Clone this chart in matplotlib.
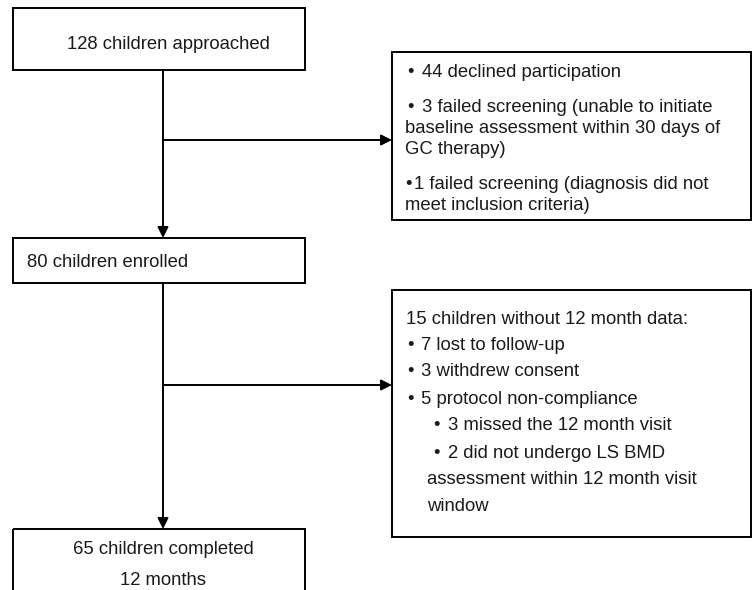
import matplotlib.pyplot as plt
from matplotlib.patches import Rectangle

plt.rcParams["font.family"] = ["Liberation Sans", "DejaVu Sans"]

# flow chart texts
main_steps = ["128 children approached", "80 children enrolled", "65 children completed", "12 months"]
excluded_1 = [
    ("\u2022", "44 declined participation"),
    ("\u2022", "3 failed screening (unable to initiate"),
    ("", "baseline assessment within 30 days of"),
    ("", "GC therapy)"),
    ("\u2022", "1 failed screening (diagnosis did not"),
    ("", "meet inclusion criteria)"),
]
excluded_2 = [
    ("", "15 children without 12 month data:"),
    ("\u2022", "7 lost to follow-up"),
    ("\u2022", "3 withdrew consent"),
    ("\u2022", "5 protocol non-compliance"),
    ("\u2022 ", "3 missed the 12 month visit"),
    ("\u2022 ", "2 did not undergo LS BMD"),
    (" ", "assessment within 12 month visit"),
    (" ", "window"),
]

fig = plt.figure(figsize=(7.52, 5.9), dpi=100)
ax = fig.add_axes([0, 0, 1, 1])
ax.set_xlim(0, 752)
ax.set_ylim(590, 0)
ax.axis("off")

fs = 13.3
lw = 1.4
dy = 2.5  # small shift so the glyphs sit where the reference has them


def box(x0, y0, x1, y1):
    ax.add_patch(Rectangle((x0, y0), x1 - x0, y1 - y0, fill=False, edgecolor="black", linewidth=lw))


def arrow(x0, y0, x1, y1):
    ax.annotate("", xy=(x1, y1), xytext=(x0, y0),
                arrowprops=dict(arrowstyle="-|>", color="black", lw=lw, mutation_scale=16, shrinkA=0, shrinkB=0))


def label(x, y, t, ha="left"):
    ax.text(x, y + dy, t, fontsize=fs, ha=ha, va="center", color="#1a1a1a")


# main boxes
box(13, 8, 305, 70)
label(168, 42, main_steps[0], ha="center")
box(13, 238, 305, 283)
label(27, 260, main_steps[1])
box(13, 529, 305, 600)
label(163, 547, main_steps[2], ha="center")
label(163, 578, main_steps[3], ha="center")

# vertical arrows
arrow(163, 70, 163, 238)
arrow(163, 283, 163, 529)

# side arrows
arrow(163, 140, 392, 140)
arrow(163, 385, 392, 385)

# first exclusion box
box(392, 52, 751, 220)
ys1 = [70, 105, 126, 147, 182, 203]
for (b, t), y in zip(excluded_1, ys1):
    if b and t.startswith("1 failed"):
        label(405, y, b)
        label(414, y, t)
    elif b:
        label(407, y, b)
        label(422, y, t)
    else:
        label(405, y, t)

# second exclusion box
box(392, 290, 751, 537)
ys2 = [317, 343, 369, 397, 423, 451, 477, 504]
for (b, t), y in zip(excluded_2, ys2):
    if b == "":
        label(406, y, t)
    elif b == "\u2022":
        label(407, y, b)
        label(421, y, t)
    elif b == "\u2022 ":
        label(433, y, "\u2022")
        label(448, y, t)
    else:
        label(427, y, t)

fig.savefig("out.png", dpi=100)
